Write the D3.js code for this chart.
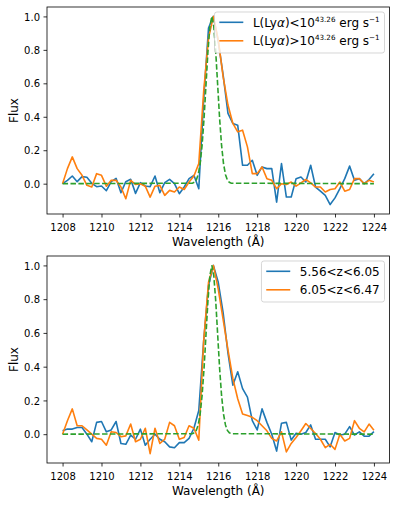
<!DOCTYPE html>
<html>
<head>
<meta charset="utf-8">
<script src="https://cdn.jsdelivr.net/npm/d3@7"></script>
<style>
  body { margin: 0; background: #fff; }
  svg { display: block; font-family: "DejaVu Sans", sans-serif; }
</style>
</head>
<body>
<svg id="chart" width="398" height="506"></svg>
<script>
//data
const wavelength = d3.range(0, 65).map(i => 1208 + i * 0.25);
const xTicks = [1208, 1210, 1212, 1214, 1216, 1218, 1220, 1222, 1224];
const yTicks = [0, 0.2, 0.4, 0.6, 0.8, 1.0];

//top panel: split by Lya luminosity
const lowLumFlux = [0.0, 0.02, 0.046, 0.012, 0.042, 0.038, 0.002, -0.018, -0.014, -0.042,
    0.012, 0.032, -0.054, 0.012, 0.026, -0.058, 0.006, -0.014, -0.018, 0.046,
    -0.054, 0.006, 0.026, 0.0, -0.06, -0.02, 0.03, 0.05, -0.03, 0.5,
    0.93, 1.0, 0.85, 0.65, 0.42, 0.36, 0.35, 0.11, 0.11, 0.14,
    0.05, 0.1, 0.09, 0.09, -0.11, 0.12, -0.08, -0.08, 0.03, 0.04,
    0.01, 0.11, -0.02, -0.045, -0.07, -0.125, -0.085, -0.03, 0.03, 0.105,
    0.02, 0.03, 0.0, 0.025, 0.06];
const highLumFlux = [0.0, 0.09, 0.16, 0.09, 0.05, -0.01, -0.02, 0.06, 0.05, -0.015,
    0.02, 0.02, -0.02, -0.09, 0.02, -0.005, 0.0, -0.015, -0.08, -0.015,
    -0.01, -0.07, -0.04, -0.05, -0.02, -0.035, 0.01, 0.046, 0.12, 0.55,
    0.87, 1.0, 0.86, 0.64, 0.47, 0.36, 0.31, 0.32, 0.22, 0.06,
    0.06, 0.1, 0.03, 0.02, -0.03, 0.0, -0.005, 0.01, -0.015, 0.005,
    0.025, 0.005, -0.02, -0.02, -0.05, -0.035, -0.03, 0.01, -0.045, -0.035,
    0.03, 0.03, 0.0, 0.02, 0.01];

//bottom panel: split by redshift
const lowZFlux = [0.02, 0.03, 0.03, 0.04, 0.04, 0.0, -0.045, 0.07, 0.075, 0.014,
    0.025, 0.075, -0.055, -0.06, -0.005, -0.03, 0.03, -0.065, -0.03, 0.0,
    -0.03, -0.045, -0.075, -0.08, -0.05, -0.05, -0.025, 0.035, 0.14, 0.55,
    0.88, 1.0, 0.9, 0.72, 0.48, 0.29, 0.37, 0.27, 0.22, 0.08,
    0.025, 0.15, 0.07, 0.0, -0.1, 0.065, 0.07, -0.035, 0.005, 0.0,
    0.01, 0.055, -0.03, -0.03, -0.03, -0.075, 0.01, -0.005, 0.0, 0.045,
    -0.005, 0.014, -0.012, -0.012, 0.015];
const highZFlux = [0.0, 0.08, 0.15, 0.05, 0.05, 0.025, 0.0, -0.025, -0.03, -0.065,
    0.014, 0.01, -0.015, -0.01, 0.06, -0.045, -0.03, 0.035, -0.115, 0.035,
    -0.055, -0.03, 0.07, 0.05, -0.03, -0.02, 0.05, 0.035, -0.035, 0.55,
    0.9, 1.0, 0.86, 0.68, 0.5, 0.33, 0.21, 0.12, 0.11, 0.1,
    0.08, 0.05, 0.02, -0.025, -0.04, 0.014, -0.105, -0.055, -0.02, 0.02,
    0.063, 0.034, 0.004, -0.03, -0.08, -0.06, -0.09, 0.0, -0.04, -0.025,
    0.08, 0.035, 0.014, 0.06, 0.024];

//intrinsic line model (green dashed), same in both panels
const modelWave = [1208, 1214.67, 1214.77, 1214.87, 1214.97, 1215.07, 1215.17, 1215.27, 1215.37, 1215.47,
    1215.57, 1215.67, 1215.77, 1215.87, 1215.97, 1216.07, 1216.17, 1216.27, 1216.37, 1216.47,
    1216.57, 1216.67, 1224];
const modelFlux = [0, 0.003, 0.008, 0.022, 0.055, 0.12, 0.23, 0.39, 0.59, 0.79,
    0.94, 1.0, 0.94, 0.79, 0.59, 0.39, 0.23, 0.12, 0.055, 0.022,
    0.008, 0.003, 0];

//legend labels (pieces: plain, italic greek, superscript)
const topLabels = [
    [["L(Ly"], ["α", "it"], [")<10"], ["43.26", "sup"], [" erg s"], ["−1", "sup"]],
    [["L(Ly"], ["α", "it"], [")>10"], ["43.26", "sup"], [" erg s"], ["−1", "sup"]]
];
const bottomLabels = [
    [["5.56<z<6.05"]],
    [["6.05<z<6.47"]]
];

const COLOURS = { blue: "#1f77b4", orange: "#ff7f0e", green: "#2ca02c", frame: "#cccccc" };
const DIMNS = { left: 47, right: 389.5, height: 207, tickLen: 3.5, tickPad: 3.5 };

const svg = d3.select("#chart");

const padExtent = ([a, b]) => [a - 0.05 * (b - a), b + 0.05 * (b - a)];

function drawPanel(top, series, labels){
    const g = svg.append("g").attr("class", "panel");
    const bottom = top + DIMNS.height;

    //scales
    const x = d3.scaleLinear()
        .domain(padExtent(d3.extent(modelWave)))
        .range([DIMNS.left, DIMNS.right]);
    const allFlux = series.flatMap(s => s.flux).concat(modelFlux);
    const y = d3.scaleLinear()
        .domain(padExtent(d3.extent(allFlux)))
        .range([bottom, top]);

    //lines
    const line = d3.line().x(d => x(d[0])).y(d => y(d[1]));
    series.forEach(s => {
        g.append("path")
            .datum(wavelength.map((w, i) => [w, s.flux[i]]))
            .attr("fill", "none")
            .attr("stroke", s.colour)
            .attr("stroke-width", 1.6)
            .attr("stroke-linejoin", "round")
            .attr("d", line);
    });
    g.append("path")
        .datum(modelWave.map((w, i) => [w, modelFlux[i]]))
        .attr("fill", "none")
        .attr("stroke", COLOURS.green)
        .attr("stroke-width", 1.6)
        .attr("stroke-dasharray", "5.5,2.4")
        .attr("d", line);

    //axes
    const xAxisG = g.append("g")
        .attr("transform", "translate(0," + bottom + ")")
        .call(d3.axisBottom(x).tickValues(xTicks).tickSize(DIMNS.tickLen).tickPadding(DIMNS.tickPad).tickFormat(d3.format("d")));
    const yAxisG = g.append("g")
        .attr("transform", "translate(" + DIMNS.left + ",0)")
        .call(d3.axisLeft(y).tickValues(yTicks).tickSize(DIMNS.tickLen).tickPadding(DIMNS.tickPad).tickFormat(d3.format(".1f")));
    [xAxisG, yAxisG].forEach(a => {
        a.select(".domain").remove();
        a.selectAll("line").attr("stroke", "#000").attr("stroke-width", 0.8);
        a.selectAll("text")
            .attr("fill", "#000")
            .style("font-size", "10px")
            .style("font-family", "'DejaVu Sans', sans-serif");
    });
    xAxisG.selectAll("text").attr("dy", "0.97em");
    yAxisG.selectAll("text").attr("dy", "0.36em");

    //spines
    g.append("rect")
        .attr("x", DIMNS.left)
        .attr("y", top)
        .attr("width", DIMNS.right - DIMNS.left)
        .attr("height", DIMNS.height)
        .attr("fill", "none")
        .attr("stroke", "#000")
        .attr("stroke-width", 0.8);

    //axis labels
    g.append("text")
        .attr("x", (DIMNS.left + DIMNS.right) / 2)
        .attr("y", bottom + 32.3)
        .attr("text-anchor", "middle")
        .style("font-size", "12px")
        .text("Wavelength (Å)");
    g.append("text")
        .attr("transform", "translate(18.3," + (top + DIMNS.height / 2) + ") rotate(-90)")
        .attr("text-anchor", "middle")
        .style("font-size", "12px")
        .text("Flux");

    //legend
    const legendG = g.append("g").attr("class", "legend");
    const frame = legendG.append("rect");
    const rowGap = 18.5;
    const fs = 12;
    const supSize = fs * 0.6;
    const rows = legendG.selectAll("g.row").data(series)
        .enter()
        .append("g")
            .attr("class", "row")
            .attr("transform", (d, i) => "translate(0," + (i * rowGap) + ")");
    rows.append("line")
        .attr("x1", 0)
        .attr("x2", 2 * fs)
        .attr("stroke", d => d.colour)
        .attr("stroke-width", 1.6);
    const texts = rows.append("text")
        .attr("x", 2 * fs + 0.8 * fs)
        .attr("y", 4.2)
        .style("font-size", fs + "px")
        .each(function(d, i){
            const t = d3.select(this);
            let shift = 0;
            labels[i].forEach(([str, kind]) => {
                const span = t.append("tspan").text(str);
                if (kind === "sup"){
                    span.attr("dy", -4.6 - shift).style("font-size", supSize + "px");
                    shift = -4.6;
                } else {
                    if (shift !== 0) span.attr("dy", -shift);
                    shift = 0;
                    if (kind === "it") span.style("font-style", "italic");
                }
            });
        });
    let maxW = 0;
    texts.each(function(){ maxW = Math.max(maxW, this.getComputedTextLength()); });
    const innerW = 2.8 * fs + maxW;
    const pad = 0.4 * fs;
    const boxW = innerW + 2 * pad;
    const boxH = 41;
    const boxRight = DIMNS.right - 5;
    const boxTop = top + 5;
    frame
        .attr("x", -pad)
        .attr("y", -10.3)
        .attr("width", boxW)
        .attr("height", boxH)
        .attr("rx", 2.4)
        .attr("fill", "#fff")
        .attr("fill-opacity", 0.8)
        .attr("stroke", COLOURS.frame)
        .attr("stroke-opacity", 0.8)
        .attr("stroke-width", 1);
    legendG.attr("transform", "translate(" + (boxRight - boxW + pad) + "," + (boxTop + 10.3) + ")");
}

drawPanel(7, [
    { flux: lowLumFlux, colour: COLOURS.blue },
    { flux: highLumFlux, colour: COLOURS.orange }
], topLabels);

drawPanel(256, [
    { flux: lowZFlux, colour: COLOURS.blue },
    { flux: highZFlux, colour: COLOURS.orange }
], bottomLabels);
</script>
</body>
</html>
